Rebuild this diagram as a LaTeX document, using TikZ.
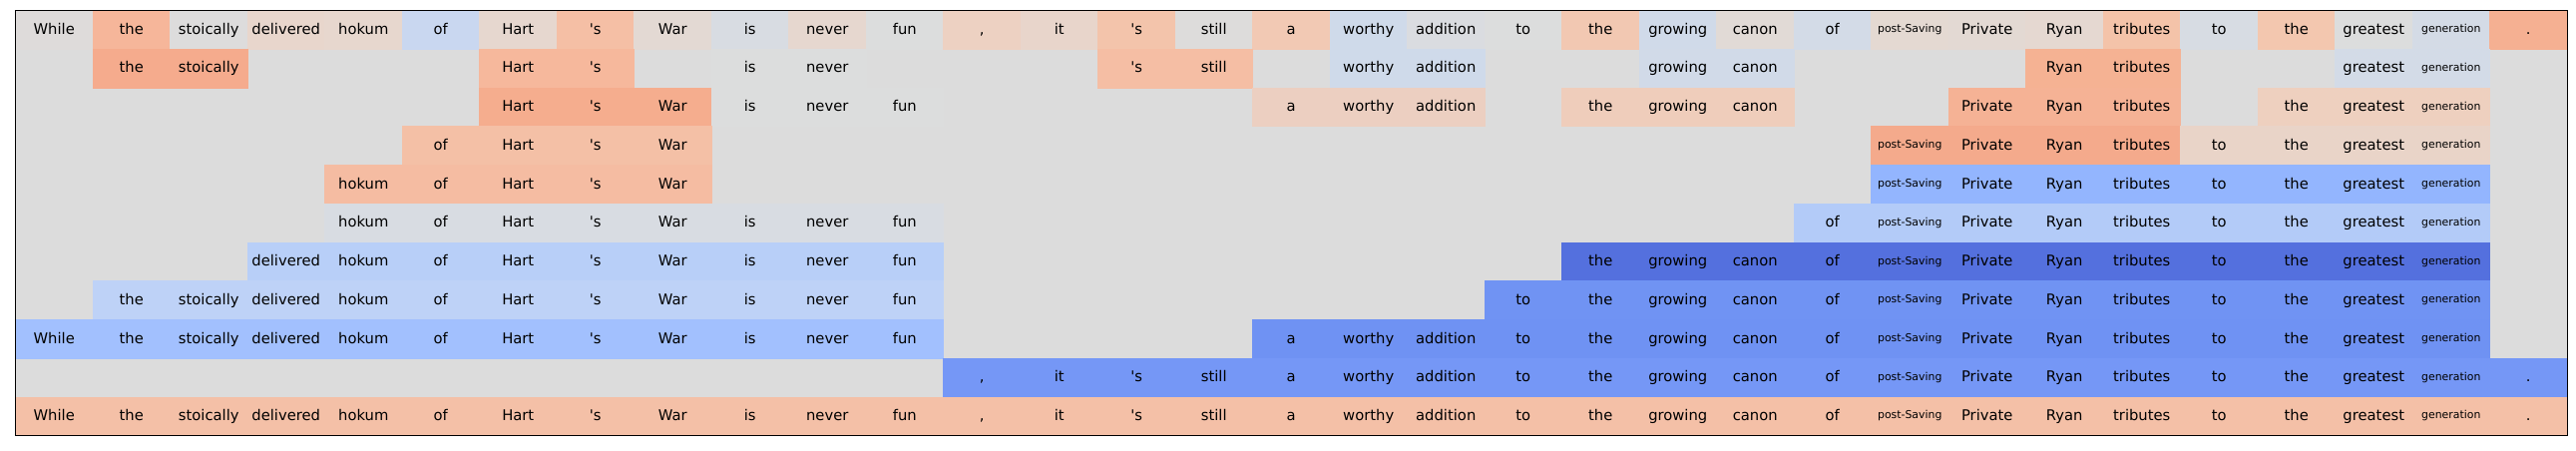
\documentclass[tikz,border=0pt]{standalone}
\usepackage{fontspec}
\setmainfont{DejaVu Sans}[Ligatures=TeXOff]
\usepackage{tikz}
\usepackage{xcolor}

\definecolor{emptycell}{HTML}{DCDCDC}

\tikzset{
  cell/.style={minimum width=1.55cm, minimum height=0.7746cm, inner sep=0pt,
    outer sep=0pt, text height=0.25cm, text depth=0.078cm,
    font=\fontsize{8.4}{10}\selectfont},
}

\newcommand\tokenword[1]{\ifcase#1\or While\or the\or stoically\or delivered\or
  hokum\or of\or Hart\or 's\or War\or is\or never\or fun\or ,\or it\or 's\or
  still\or a\or worthy\or addition\or to\or the\or growing\or canon\or of\or
  post-Saving\or Private\or Ryan\or tributes\or to\or the\or greatest\or
  generation\or .\fi}
\newcommand\smalltok[1]{\raisebox{0.03cm}{\fontsize{6.2}{7.5}\selectfont #1}}
\newcommand\celltext[1]{\ifnum#1=25 \smalltok{post-Saving}\else
  \ifnum#1=32 \smalltok{generation}\else\tokenword{#1}\fi\fi}

% row, first column, last column, fill
\newcommand\phrase[4]{%
  \definecolor{phrasefill}{HTML}{#4}%
  \foreach \col in {#2,...,#3}{
    \node[cell, fill=phrasefill, draw=phrasefill, line width=0.3pt] (w-#1-\col)
      at ({(\col-0.5)*1.55}, {-(#1-0.5)*0.7746}) {\celltext{\col}};
  }}

\begin{document}
\begin{tikzpicture}

  \useasboundingbox (-0.31,0.21) rectangle (51.33,-8.81);
  \fill[emptycell] (0,0) rectangle (51.15,-8.52);

  \foreach \hex [count=\n] in {DEDBDA, F6B69A, DDDCDC, E8D6CC, E7D7CE, C9D7F0,
    E6D7CF, F5BFA5, E3D9D3, D8DCE2, E6D7CF, DCDDDD, EDD1C2, E8D5CB, F3C4AB,
    DDDCDB, F2C9B4, CFDAEA, DADCE0, DCDDDD, F2C8B2, D0DAE9, E1DAD6, D3DBE7,
    E4D9D2, E3D9D3, E5D8D1, F4C3A9, D7DCE3, F3C7AF, DCDDDD, D4DBE6, F5B092}
    {\phrase{1}{\n}{\n}{\hex}}

  \phrase{2}{2}{3}{F5AB8D}
  \phrase{2}{7}{8}{F6B89C}
  \phrase{2}{10}{11}{DCDDDD}
  \phrase{2}{15}{16}{F5BEA4}
  \phrase{2}{18}{19}{CFDAEA}
  \phrase{2}{22}{23}{D1DAE8}
  \phrase{2}{27}{28}{F5B293}
  \phrase{2}{31}{32}{D3DBE7}

  \phrase{3}{7}{9}{F5AD8E}
  \phrase{3}{10}{12}{DCDDDD}
  \phrase{3}{17}{19}{ECCFC1}
  \phrase{3}{21}{23}{EFCDBB}
  \phrase{3}{26}{28}{F5B295}
  \phrase{3}{30}{32}{EED0BF}

  \phrase{4}{6}{9}{F4C0A6}
  \phrase{4}{25}{28}{F4AA8C}
  \phrase{4}{29}{32}{E9D4C8}

  \phrase{5}{5}{9}{F5BCA2}
  \phrase{5}{25}{32}{93B5FE}

  \phrase{6}{5}{12}{D8DCE2}
  \phrase{6}{24}{32}{B3CBF8}

  \phrase{7}{4}{12}{B8CFF8}
  \phrase{7}{21}{32}{5470DE}

  \phrase{8}{2}{12}{BED2F7}
  \phrase{8}{20}{32}{7093F3}

  \phrase{9}{1}{12}{A2C0FE}
  \phrase{9}{17}{32}{6F92F3}

  \phrase{10}{13}{33}{7597F6}

  \phrase{11}{1}{33}{F4C0A7}

  \draw[line width=0.6pt] (0,0) rectangle (51.15,-8.52);

\end{tikzpicture}
\end{document}
